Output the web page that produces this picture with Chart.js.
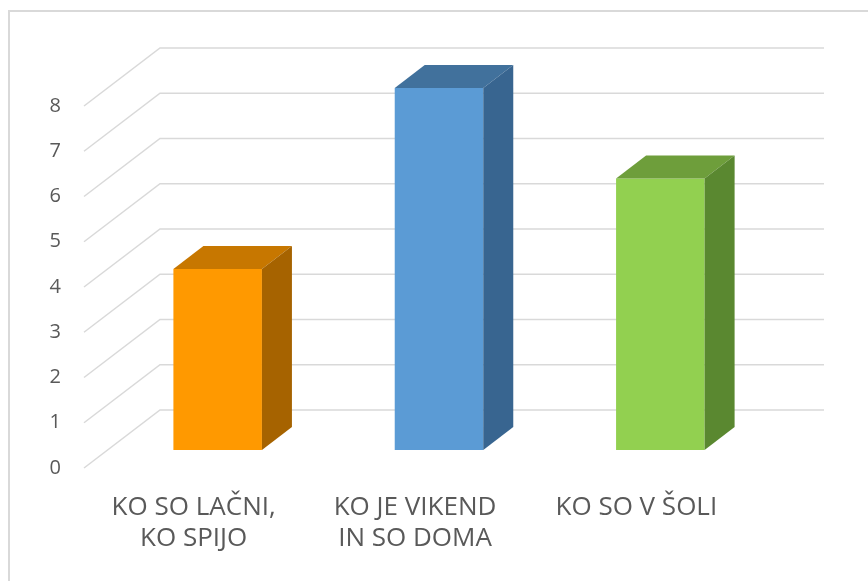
<!DOCTYPE html>
<html>
<head>
<meta charset="utf-8">
<script src="https://cdn.jsdelivr.net/npm/chart.js@4"></script>
<style>
  body { margin: 0; background: #fff; }
  canvas { display: block; }
</style>
</head>
<body>
<canvas id="bar_chart" width="868" height="581"></canvas>
<script>
const categories = [['KO SO LAČNI,', 'KO SPIJO'], ['KO JE VIKEND', 'IN SO DOMA'], ['KO SO V ŠOLI']];
const values = [4, 8, 6];
const yTicks = [0, 1, 2, 3, 4, 5, 6, 7, 8];

const frontColors = ['#ff9900', '#5b9bd5', '#92d050'];
const topColors = ['#c77700', '#41719c', '#6e9e3b'];
const sideColors = ['#a66300', '#386590', '#5a8830'];

// depth of the bar boxes and of the floor/back wall
const depth = { dx: 30, dy: -23 };
const wall = { frontX: 84, backX: 160, rightX: 824, frontDy: 18, backDy: -40 };

const frame = {
  id: 'frame',
  beforeDraw(chart) {
    const c = chart.ctx;
    c.save();
    c.fillStyle = '#fff';
    c.fillRect(0, 0, chart.width, chart.height);
    c.strokeStyle = '#d9d9d9';
    c.lineWidth = 2;
    c.strokeRect(9, 11, chart.width + 20, chart.height + 20);
    c.restore();
  }
};

const grid3d = {
  id: 'grid3d',
  beforeDatasetsDraw(chart) {
    const c = chart.ctx, y = chart.scales.y;
    c.save();
    c.strokeStyle = '#d9d9d9';
    c.lineWidth = 1.5;
    yTicks.forEach(v => {
      const py = y.getPixelForValue(v);
      c.beginPath();
      c.moveTo(wall.frontX, py + wall.frontDy);
      c.lineTo(wall.backX, py + wall.backDy);
      c.lineTo(wall.rightX, py + wall.backDy);
      c.stroke();
    });
    c.restore();
  }
};

const box3d = {
  id: 'box3d',
  afterDatasetsDraw(chart) {
    const c = chart.ctx;
    chart.getDatasetMeta(0).data.forEach((bar, i) => {
      const l = bar.x - bar.width / 2, r = bar.x + bar.width / 2;
      const t = bar.y, b = bar.base;
      c.save();
      c.fillStyle = topColors[i];
      c.beginPath();
      c.moveTo(l, t);
      c.lineTo(l + depth.dx, t + depth.dy);
      c.lineTo(r + depth.dx, t + depth.dy);
      c.lineTo(r, t);
      c.closePath();
      c.fill();
      c.fillStyle = sideColors[i];
      c.beginPath();
      c.moveTo(r, t);
      c.lineTo(r + depth.dx, t + depth.dy);
      c.lineTo(r + depth.dx, b + depth.dy);
      c.lineTo(r, b);
      c.closePath();
      c.fill();
      c.restore();
    });
  }
};

const ctx = document.getElementById('bar_chart').getContext('2d');
const bar_chart = new Chart(ctx, {
  type: 'bar',
  data: {
    labels: categories,
    datasets: [{
      data: values,
      backgroundColor: frontColors,
      borderWidth: 0,
      barPercentage: 0.4,
      categoryPercentage: 1
    }]
  },
  options: {
    responsive: false,
    animation: false,
    layout: { padding: { top: 88, right: 97, bottom: 0, left: 0 } },
    plugins: { legend: { display: false }, tooltip: { enabled: false } },
    scales: {
      x: {
        grid: { display: false, drawTicks: false },
        border: { display: false },
        ticks: {
          color: '#595959',
          font: { family: 'Open Sans', size: 26, lineHeight: 1.2 },
          padding: 42,
          labelOffset: -24,
          maxRotation: 0,
          autoSkip: false
        },
        afterFit(scale) { scale.height = 131; }
      },
      y: {
        min: 0,
        max: 8,
        grid: { display: false, drawTicks: false },
        border: { display: false },
        afterBuildTicks(scale) { scale.ticks = yTicks.map(v => ({ value: v })); },
        ticks: {
          color: '#595959',
          font: { family: 'Open Sans', size: 20 },
          padding: 46,
          labelOffset: 18
        },
        afterFit(scale) { scale.width = 107; }
      }
    }
  },
  plugins: [frame, grid3d, box3d]
});
</script>
</body>
</html>
